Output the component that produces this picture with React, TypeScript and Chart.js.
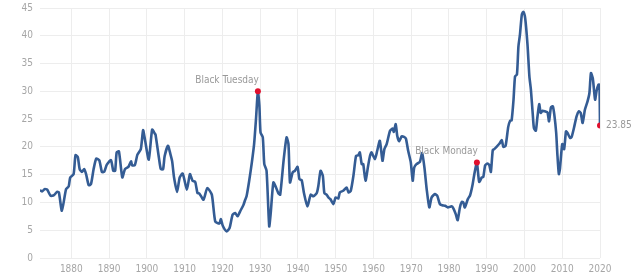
import React, { useEffect, useRef } from "react";
import { Chart, registerables } from "chart.js";

Chart.register(...registerables);

const years: number[] = [
  1871.7, 1872.3, 1872.9, 1873.6, 1874.5, 1875.4, 1876.2, 1876.7, 1877.5, 1878.6,
  1879.3, 1879.7, 1880.6, 1881.1, 1881.7, 1882.2, 1882.8, 1883.4, 1883.9, 1884.6,
  1885.2, 1885.9, 1886.6, 1887.4, 1888.1, 1888.7, 1889.4, 1890.5, 1891.1, 1891.6,
  1892.0, 1892.6, 1893.5, 1894.2, 1895.1, 1895.8, 1896.1, 1896.8, 1897.5, 1898.4,
  1899.0, 1899.5, 1900.5, 1901.4, 1902.1, 1902.3, 1903.2, 1903.7, 1904.3, 1904.7,
  1905.6, 1906.2, 1906.7, 1907.2, 1908.0, 1908.7, 1909.5, 1910.6, 1911.4, 1912.1,
  1912.8, 1913.4, 1913.9, 1915.0, 1916.0, 1917.2, 1918.1, 1919.2, 1919.6, 1920.1,
  1921.1, 1921.9, 1922.7, 1923.4, 1924.0, 1924.7, 1925.6, 1926.0, 1926.4, 1927.1,
  1927.8, 1928.4, 1928.9, 1929.4, 1929.8, 1930.1, 1930.7, 1931.1, 1931.7, 1932.4,
  1932.8, 1933.5, 1934.2, 1934.8, 1935.3, 1936.2, 1937.0, 1937.5, 1937.9, 1938.6,
  1939.2, 1939.9, 1940.4, 1941.0, 1941.6, 1942.5, 1943.4, 1944.1, 1945.0, 1945.4,
  1946.0, 1946.6, 1947.0, 1947.6, 1948.2, 1948.6, 1949.4, 1950.0, 1950.7, 1951.1,
  1952.0, 1952.9, 1953.4, 1954.0, 1954.7, 1955.4, 1956.0, 1956.4, 1956.9, 1957.3,
  1957.9, 1958.6, 1959.1, 1959.5, 1960.4, 1961.0, 1961.7, 1962.4, 1962.9, 1963.5,
  1964.4, 1965.1, 1965.4, 1965.9, 1966.3, 1966.8, 1967.5, 1968.1, 1968.6, 1969.2,
  1969.9, 1970.4, 1970.8, 1971.4, 1972.3, 1972.9, 1973.5, 1974.1, 1974.8, 1975.4,
  1976.3, 1976.9, 1977.6, 1978.2, 1979.0, 1979.7, 1980.7, 1981.2, 1981.8, 1982.3,
  1982.9, 1983.4, 1983.8, 1984.2, 1985.0, 1985.6, 1986.2, 1986.7, 1987.4, 1988.0,
  1988.7, 1989.1, 1989.6, 1990.2, 1990.7, 1991.1, 1991.6, 1992.0, 1992.6, 1993.4,
  1994.0, 1994.4, 1995.0, 1995.7, 1996.2, 1996.6, 1997.1, 1997.5, 1998.0, 1998.4,
  1998.8, 1999.3, 1999.7, 2000.2, 2000.8, 2001.3, 2001.7, 2002.2, 2002.5, 2003.0,
  2003.4, 2003.9, 2004.3, 2004.8, 2005.4, 2006.1, 2006.5, 2007.0, 2007.5, 2007.9,
  2008.4, 2008.7, 2009.1, 2009.4, 2010.0, 2010.5, 2011.0, 2011.4, 2012.1, 2012.5,
  2013.1, 2013.8, 2014.4, 2014.9, 2015.4, 2016.0, 2016.7, 2017.2, 2017.6, 2018.1,
  2018.7, 2019.1, 2019.6, 2019.85, 2020.0,
];

const peValues: number[] = [
  12.2, 12.0, 12.4, 12.3, 11.2, 11.3, 11.9, 11.8, 8.5, 12.4,
  12.9, 14.5, 15.1, 18.5, 18.2, 16.0, 15.5, 16.0, 15.1, 13.1,
  13.3, 16.0, 17.9, 17.6, 15.5, 15.5, 16.8, 17.6, 15.7, 15.7,
  19.0, 19.2, 14.5, 16.0, 16.4, 17.4, 16.7, 16.7, 18.6, 19.6,
  23.0, 21.3, 17.7, 23.1, 22.4, 22.2, 18.0, 16.0, 16.0, 18.3,
  20.2, 18.8, 17.4, 14.5, 11.9, 14.5, 15.2, 12.3, 15.1, 13.9,
  13.7, 11.7, 11.6, 10.5, 12.6, 11.4, 6.6, 6.2, 7.0, 5.8,
  4.8, 5.4, 7.8, 8.1, 7.5, 8.4, 9.6, 10.4, 11.1, 13.9,
  17.2, 20.5, 25.0, 30.0, 27.4, 22.6, 21.7, 16.9, 15.7, 5.7,
  8.1, 13.6, 12.7, 11.7, 11.4, 17.5, 21.7, 20.5, 13.6, 15.4,
  15.7, 16.4, 14.2, 14.0, 11.7, 9.3, 11.4, 11.1, 11.7, 12.9,
  15.7, 14.8, 11.7, 11.4, 10.8, 10.6, 9.7, 10.9, 10.7, 11.8,
  12.1, 12.7, 11.8, 12.1, 14.8, 18.4, 18.5, 19.0, 16.9, 16.9,
  13.9, 16.6, 18.4, 19.0, 17.8, 19.3, 21.1, 17.5, 19.6, 20.5,
  22.9, 23.3, 22.7, 24.1, 22.0, 21.0, 21.9, 21.8, 21.5, 19.3,
  17.2, 13.9, 16.3, 16.9, 17.3, 18.9, 16.3, 12.4, 9.1, 10.9,
  11.5, 11.2, 9.7, 9.5, 9.4, 9.1, 9.3, 8.9, 7.9, 6.8,
  9.1, 10.1, 10.0, 9.1, 10.6, 11.3, 13.0, 15.0, 17.2, 13.7,
  14.5, 14.6, 16.7, 17.0, 16.7, 15.5, 19.4, 19.6, 20.0, 20.6,
  21.2, 20.0, 20.2, 23.6, 24.7, 24.8, 28.5, 32.7, 33.0, 38.1,
  40.2, 43.8, 44.3, 43.1, 38.4, 32.7, 30.3, 25.8, 23.4, 22.9,
  25.2, 27.7, 26.1, 26.5, 26.4, 26.2, 24.6, 27.1, 27.3, 25.8,
  22.5, 18.8, 15.1, 16.1, 20.5, 19.6, 22.8, 22.5, 21.6, 21.8,
  23.4, 25.5, 26.4, 26.1, 24.3, 26.7, 28.2, 29.7, 33.3, 32.3,
  28.5, 30.1, 31.2, 31.2, 23.85,
];

const xTickYears: number[] = [1880, 1890, 1900, 1910, 1920, 1930, 1940, 1950, 1960, 1970, 1980, 1990, 2000, 2010, 2020];
const eventYears: number[] = [1929.4, 1987.4];
const eventLabels: string[] = ["Black Tuesday", "Black Monday"];

const LINE_COLOR = "#345c94";
const DOT_COLOR = "#e0102e";
const TEXT_COLOR = "#a6a6a6";
const GRID_COLOR = "#ededed";
const FONT = "'Liberation Sans Narrow', 'Arial Narrow', 'DejaVu Sans Condensed', sans-serif";

export default function App() {
  const ref = useRef<HTMLCanvasElement | null>(null);

  useEffect(() => {
    document.body.style.margin = "0";
    const canvas = ref.current;
    if (!canvas) return;
    const points = years.map((x, i) => ({ x, y: peValues[i] }));
    const lastIdx = points.length - 1;
    const eventIdx = eventYears.map((y) => years.indexOf(y));
    const markIdx = [...eventIdx, lastIdx];

    const labelPlugin = {
      id: "eventLabels",
      afterDatasetsDraw(chart: any) {
        const meta = chart.getDatasetMeta(0);
        const ctx = chart.ctx;
        ctx.save();
        ctx.font = `10px ${FONT}`;
        ctx.fillStyle = "#999999";
        eventIdx.forEach((idx, k) => {
          const el = meta.data[idx];
          if (!el) return;
          ctx.textAlign = "right";
          ctx.textBaseline = "middle";
          ctx.fillText(eventLabels[k], el.x + 1, el.y - 11);
        });
        const last = meta.data[lastIdx];
        if (last) {
          ctx.textAlign = "left";
          ctx.textBaseline = "middle";
          ctx.fillText(peValues[lastIdx].toFixed(2), last.x + 6, last.y);
        }
        ctx.restore();
      },
    };

    const chart = new Chart(canvas, {
      type: "line",
      data: {
        datasets: [
          {
            data: points,
            borderColor: LINE_COLOR,
            borderWidth: 2.6,
            tension: 0.2,
            pointRadius: (c: any) => (markIdx.includes(c.dataIndex) ? 3 : 0),
            pointBackgroundColor: DOT_COLOR,
            pointBorderWidth: 0,
            pointHoverRadius: 0,
          },
        ],
      },
      options: {
        animation: false,
        responsive: false,
        parsing: false as any,
        layout: { padding: { left: 0, right: 40, top: 8, bottom: 0 } },
        plugins: { legend: { display: false }, tooltip: { enabled: false } },
        scales: {
          x: {
            type: "linear",
            min: 1871.7,
            max: 2020.0,
            afterBuildTicks: (scale: any) => {
              scale.ticks = xTickYears.map((v) => ({ value: v }));
            },
            afterFit: (scale: any) => {
              scale.height = 18;
              scale.paddingLeft = 0;
              scale.paddingRight = 0;
            },
            grid: { color: GRID_COLOR, drawTicks: false },
            border: { display: false },
            ticks: {
              color: TEXT_COLOR,
              font: { size: 10, family: FONT },
              padding: 5,
              maxRotation: 0,
              autoSkip: false,
              callback: (v: any) => String(v),
            },
          },
          y: {
            min: 0,
            max: 45,
            afterFit: (scale: any) => {
              scale.width = 40;
              scale.paddingTop = 0;
              scale.paddingBottom = 0;
            },
            grid: { color: GRID_COLOR, drawTicks: false },
            border: { display: false },
            ticks: {
              stepSize: 5,
              color: TEXT_COLOR,
              font: { size: 10, family: FONT },
              padding: 7,
            },
          },
        },
      },
      plugins: [labelPlugin],
    } as any);
    return () => chart.destroy();
  }, []);

  return (
    <div style={{ position: "absolute", left: 0, top: 0, width: 640, height: 276 }}>
      <canvas ref={ref} width={640} height={276} style={{ width: 640, height: 276 }} />
    </div>
  );
}
